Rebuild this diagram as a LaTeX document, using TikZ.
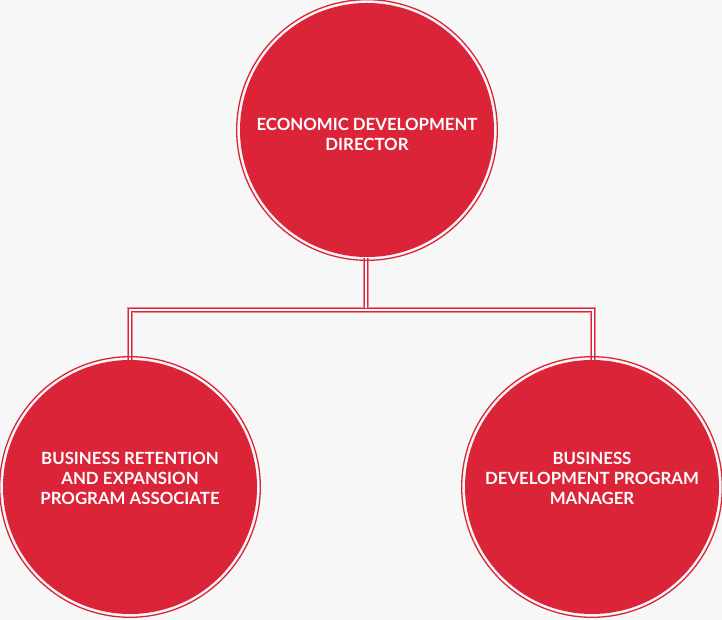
\documentclass[tikz,border=0pt]{standalone}
\usepackage{fontspec}
\setmainfont{Lato}
\definecolor{bgc}{HTML}{F7F7F7}
\definecolor{brand}{HTML}{DC2439}
\begin{document}
\begin{tikzpicture}[x=1pt,y=-1pt,
  role/.style={circle,fill=brand,minimum size=254pt,inner sep=0pt},
  label/.style={text=white,align=center,inner sep=0pt,
    font=\bfseries\fontsize{16.8}{20}\selectfont},
  ring/.style={draw=brand,line width=1.3pt},
  linkglow/.style={draw=brand!55,line width=6pt},
  linkcore/.style={draw=brand,line width=1pt,double=white,double distance=2pt}]
  \fill[bgc] (0,0) rectangle (722,620);
  \useasboundingbox (0,0) rectangle (722,620);

  \coordinate (j0) at (366,310);
  \coordinate (jl) at (130,310);
  \coordinate (jr) at (593,310);

  % connectors, drawn below the circles
  \foreach \s in {linkglow,linkcore}{
    \draw[\s] (366,258) -- (j0);
    \draw[\s] (130,360) -- (jl) -- (jr) -- (593,360);
  }

  \node[role] (dir) at (367,130) {};
  \node[role] (bre) at (130,487) {};
  \node[role] (bdm) at (592,487) {};
  \foreach \n in {dir,bre,bdm}
    \draw[ring] (\n.center) circle (130.3);

  % yshift is in page points (upwards), so negative moves text down
  \node[label] (tdir) at ([yshift=-4.5pt]dir.center) {ECONOMIC DEVELOPMENT\\DIRECTOR};
  \node[label] (tbre) at ([yshift=9pt]bre.center) {BUSINESS RETENTION\\AND EXPANSION\\PROGRAM ASSOCIATE};
  \node[label] (tbdm) at ([yshift=9pt]bdm.center) {BUSINESS\\DEVELOPMENT PROGRAM\\MANAGER};
\end{tikzpicture}
\end{document}
